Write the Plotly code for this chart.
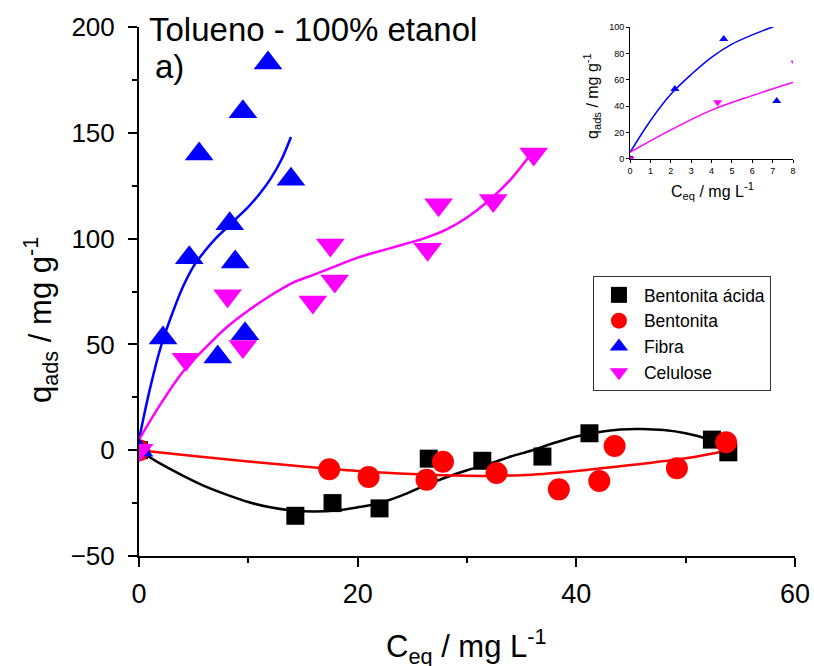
import plotly.graph_objects as go

# ---------------- data ----------------
acida_x = [0, 14.3, 17.7, 22.0, 26.5, 31.4, 36.9, 41.2, 52.4, 53.9]
acida_y = [0, -31, -25, -27.5, -4, -5, -3, 8, 5, -1]

bent_x = [0, 17.4, 21.0, 26.3, 27.8, 32.7, 38.4, 42.1, 43.5, 49.2, 53.7]
bent_y = [0, -9, -12.7, -14, -5.5, -10.8, -18.5, -14.6, 2, -8.5, 3.8]

fibra_x = [0, 2.2, 4.6, 5.5, 7.2, 8.3, 8.8, 9.7, 9.5, 11.8, 13.9]
fibra_y = [0, 53, 91, 140, 44, 107, 89, 55, 160, 183, 128]

celu_x = [0, 4.3, 8.1, 9.5, 15.9, 17.5, 17.9, 26.4, 27.4, 32.4, 36.1]
celu_y = [0, 43, 73, 49, 70, 97, 80, 95, 116, 118, 140]

# fitted curves
acida_fit_x = [0, 2, 4, 6, 8, 10, 12, 14, 16, 18, 20, 22, 24, 26, 28, 30, 32, 34, 36, 38, 40, 42, 44, 46, 48, 50, 52, 54]
acida_fit_y = [0, -6.5, -12, -17, -21, -24.5, -27, -28.5, -29, -28.5, -27, -25, -21.5, -17, -13, -9.5, -6.5, -3, 0, 3.5, 6.5, 8.5, 9.8, 10, 9.5, 8, 5.3, 1]

bent_fit_x = [0, 5, 10, 15, 20, 25, 30, 35, 40, 45, 50, 54]
bent_fit_y = [0, -2.7, -5.3, -7.7, -9.8, -11.3, -12.1, -11.8, -9.8, -7.0, -3.8, 0]

fibra_fit_x = [0, 1, 2, 3, 4, 5, 6, 7, 8, 9, 10, 11, 12, 13, 13.9]
fibra_fit_y = [5, 29, 49, 64, 77, 87, 94, 100, 105, 110, 115, 121, 128, 137, 148]

celu_fit_x = [0, 2, 4, 6, 8, 10, 12, 14, 16, 18, 20, 22, 24, 26, 28, 30, 32, 34, 36]
celu_fit_y = [5, 22, 37, 48, 58, 66, 73, 79, 83, 87, 91, 94, 97, 100, 104, 110, 118, 128, 141]

names = ["Bentonita ácida", "Bentonita", "Fibra", "Celulose"]
colors = ["black", "red", "blue", "magenta"]
symbols = ["square", "circle", "triangle-up", "triangle-down"]
main_sizes = [18, 22, 25, 25]
inset_sizes = [6, 6, 8, 8]

FONT = "Liberation Sans, Arial, sans-serif"

series = [(acida_x, acida_y), (bent_x, bent_y), (fibra_x, fibra_y), (celu_x, celu_y)]
fits = [(acida_fit_x, acida_fit_y), (bent_fit_x, bent_fit_y), (fibra_fit_x, fibra_fit_y), (celu_fit_x, celu_fit_y)]

fig = go.Figure()

# main fits
for (fx, fy), c in zip(fits, colors):
    fig.add_trace(go.Scatter(x=fx, y=fy, mode="lines", line=dict(color=c, width=2.5, shape="spline"),
                             showlegend=False, hoverinfo="skip", xaxis="x", yaxis="y"))
# main points
for (sx, sy), n, c, s, sz in zip(series, names, colors, symbols, main_sizes):
    fig.add_trace(go.Scatter(x=sx, y=sy, mode="markers", name=n,
                             marker=dict(color=c, symbol=s, size=sz, line=dict(width=0)),
                             xaxis="x", yaxis="y"))

# inset
for (fx, fy), c in zip(fits[2:], colors[2:]):
    fig.add_trace(go.Scatter(x=fx, y=fy, mode="lines", line=dict(color=c, width=1.5, shape="spline"),
                             showlegend=False, hoverinfo="skip", xaxis="x2", yaxis="y2"))
for (sx, sy), c, s, sz in zip(series, colors, symbols, inset_sizes):
    fig.add_trace(go.Scatter(x=sx, y=sy, mode="markers", showlegend=False,
                             marker=dict(color=c, symbol=s, size=sz, line=dict(width=0)),
                             xaxis="x2", yaxis="y2"))

axis_common = dict(showgrid=False, zeroline=False, showline=True, linecolor="black",
                   ticks="outside", tickcolor="black", color="black", automargin=False)

fig.update_layout(
    width=814, height=666,
    margin=dict(l=139, r=19, t=27, b=110),
    paper_bgcolor="white", plot_bgcolor="white",
    font=dict(family=FONT, color="black"),
    xaxis=dict(axis_common, range=[0, 60], domain=[0, 1], tickvals=[0, 20, 40, 60],
               linewidth=2, tickwidth=2, ticklen=9, ticklabelstandoff=4,
               tickfont=dict(size=27, family=FONT),
               minor=dict(tickvals=[10, 30, 50], ticklen=5, tickwidth=2, tickcolor="black", ticks="outside")),
    yaxis=dict(axis_common, range=[-50, 200], domain=[0, 1], tickvals=[-50, 0, 50, 100, 150, 200],
               linewidth=2, tickwidth=2, ticklen=9, ticklabelstandoff=8,
               tickfont=dict(size=26, family=FONT),
               minor=dict(tickvals=[-25, 25, 75, 125, 175], ticklen=5, tickwidth=2, tickcolor="black", ticks="outside")),
    xaxis2=dict(axis_common, range=[0, 8], domain=[0.7485, 0.997], anchor="y2", dtick=1,
                linewidth=1, tickwidth=1, ticklen=3, tickfont=dict(size=9, family=FONT)),
    yaxis2=dict(axis_common, range=[0, 100], domain=[0.7505, 1.0], anchor="x2", dtick=20,
                linewidth=1, tickwidth=1, ticklen=3, tickfont=dict(size=9, family=FONT)),
    legend=dict(x=0.692, y=(556 - 276) / 529, xanchor="left", yanchor="top",
                bordercolor="#333333", borderwidth=1, bgcolor="rgba(255,255,255,0)",
                font=dict(size=17.5, family=FONT, color="black"), tracegroupgap=0,
                itemsizing="trace", itemwidth=40),
    showlegend=True,
)

fig.add_annotation(text="Tolueno - 100% etanol", xref="paper", yref="paper",
                   x=(147 - 139) / 656, y=(556 - 9) / 529, xanchor="left", yanchor="top",
                   showarrow=False, font=dict(size=33, family=FONT, color="black"))
fig.add_annotation(text="a)", xref="paper", yref="paper",
                   x=(153 - 139) / 656, y=(556 - 46) / 529, xanchor="left", yanchor="top",
                   showarrow=False, font=dict(size=33, family=FONT, color="black"))
# main axis titles
fig.add_annotation(text="q<sub>ads</sub> / mg g<sup>-1</sup>", xref="paper", yref="paper",
                   x=(40 - 139) / 656, y=(556 - 320) / 529, xanchor="center", yanchor="middle",
                   textangle=-90, showarrow=False, font=dict(size=31, family=FONT, color="black"))
fig.add_annotation(text="C<sub>eq</sub> / mg L<sup>-1</sup>", xref="paper", yref="paper",
                   x=(466 - 139) / 656, y=(556 - 622) / 529, xanchor="center", yanchor="top",
                   showarrow=False, font=dict(size=31, family=FONT, color="black"))
# inset axis titles
fig.add_annotation(text="q<sub>ads</sub> / mg g<sup>-1</sup>", xref="paper", yref="paper",
                   x=(592 - 139) / 656, y=(556 - 96) / 529, xanchor="center", yanchor="middle",
                   textangle=-90, showarrow=False, font=dict(size=16, family=FONT, color="black"))
fig.add_annotation(text="C<sub>eq</sub> / mg L<sup>-1</sup>", xref="paper", yref="paper",
                   x=(712 - 139) / 656, y=(556 - 178) / 529, xanchor="center", yanchor="top",
                   showarrow=False, font=dict(size=16, family=FONT, color="black"))

# remove the default page margin so the 814x666 figure fills the window exactly
fig.write_html("out.html",
               config={"displayModeBar": False},
               post_script="document.body.style.margin='0';"
                           "document.documentElement.style.overflow='hidden';"
                           "document.body.style.overflow='hidden';")
